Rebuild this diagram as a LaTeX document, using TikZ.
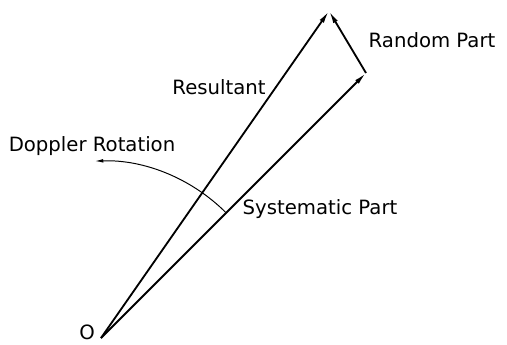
\documentclass[tikz,border=0pt]{standalone}
\usepackage{fontspec}
\setmainfont{DejaVu Sans}
\usetikzlibrary{arrows.meta}

\begin{document}
\begin{tikzpicture}[
  x=0.025cm, y=0.025cm,
  every node/.style={font=\fontsize{14}{16}\selectfont, inner sep=0pt},
  vec/.style={-{Latex[length=9pt,width=3.6pt]}, line width=1.3pt},
  rotarrow/.style={-{Latex[length=6pt,width=2.6pt]}, line width=0.7pt}
]
\useasboundingbox (0,0) rectangle (507,344);
\coordinate (O) at (101,6);
\coordinate (tipR) at (329,333);
\coordinate (tipS) at (366,271);

\draw[vec] (O) -- (tipS);
\draw[vec] (tipS) -- (tipR);
\draw[vec] (O) -- (tipR);
\draw[rotarrow] (O) ++(45:177) arc[start angle=45, end angle=92, radius=177];

\node (lblO) at (87,12) {O};
\node (lblres) at (219,257) {Resultant};
\node (lblrand) at (432,304) {Random Part};
\node (lbldop) at (92,198) {Doppler Rotation};
\node (lblsys) at (320,135) {Systematic Part};
\end{tikzpicture}
\end{document}
